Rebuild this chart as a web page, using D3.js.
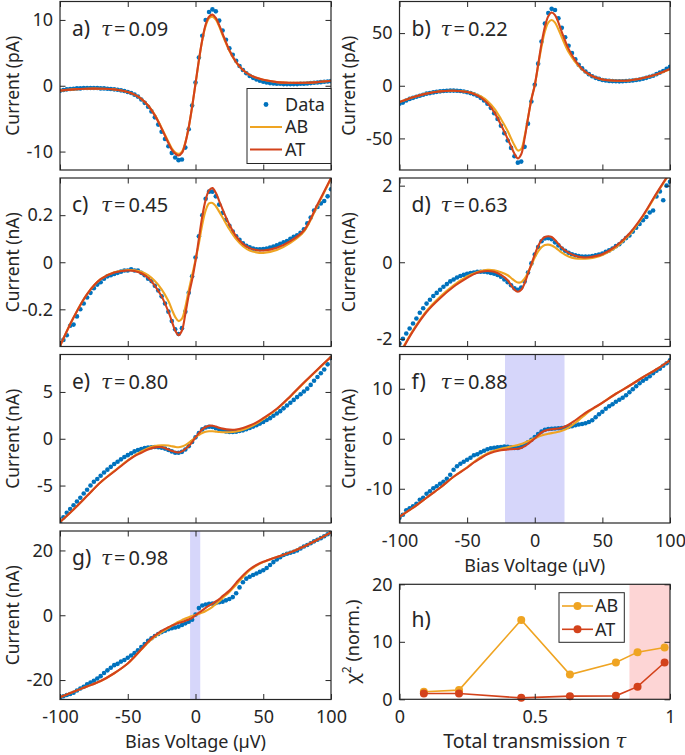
<!DOCTYPE html>
<html>
<head>
<meta charset="utf-8">
<script src="https://cdn.jsdelivr.net/npm/d3@7"></script>
<style>
body { margin: 0; background: #fff; }
text { font-family: "Noto Sans", "Open Sans", sans-serif; fill: #262626; }
</style>
</head>
<body>
<svg id="chart" width="685" height="755"></svg>
<script>
//Bias voltages (uV) of the fit curves and of the measured points
var biasFit = [-100, -90, -80, -70, -60, -50, -45, -40, -35, -30, -25, -20, -17.5, -15, -12.5, -10, -7.5, -5, -2.5,
    0, 2.5, 5, 7.5, 10, 12.5, 15, 17.5, 20, 25, 30, 35, 40, 45, 50, 60, 70, 80, 90, 100];
var biasData = [-100, -97.5, -95, -92.5, -90, -87.5, -85, -82.5, -80, -77.5, -75, -72.5, -70, -67.5, -65, -62.5,
    -60, -57.5, -55, -52.5, -50, -47.5, -45, -42.5, -40, -37.5, -35, -32.5, -30, -27.5, -25, -22.5, -20, -17.5,
    -15, -12.5, -10, -7.5, -5, -2.5, 0, 2.5, 5, 7.5, 10, 12.5, 15, 17.5, 20, 22.5, 25, 27.5, 30, 32.5, 35, 37.5,
    40, 42.5, 45, 47.5, 50, 52.5, 55, 57.5, 60, 62.5, 65, 67.5, 70, 72.5, 75, 77.5, 80, 82.5, 85, 87.5, 90, 92.5,
    95, 97.5, 100];

//a) tau = 0.09 (pA)
var dataA = [-0.75, -0.65, -0.55, -0.5, -0.45, -0.4, -0.4, -0.35, -0.35, -0.35,
    -0.35, -0.35, -0.4, -0.4, -0.45, -0.5, -0.55, -0.6, -0.7, -0.8,
    -0.95, -1.1, -1.35, -1.65, -2.1, -2.6, -3.2, -3.9, -4.8, -5.9,
    -7.0, -8.1, -9.2, -10.2, -10.9, -11.3, -11.2, -9.4, -6.6, -3.0,
    0.5, 4.3, 7.6, 10.0, 11.2, 11.6, 11.3, 9.9, 8.4, 7.0,
    5.7, 4.7, 3.8, 3.0, 2.4, 1.9, 1.5, 1.2, 0.95, 0.75,
    0.6, 0.5, 0.4, 0.35, 0.3, 0.3, 0.25, 0.25, 0.25, 0.25,
    0.25, 0.3, 0.3, 0.35, 0.4, 0.45, 0.5, 0.55, 0.6, 0.65, 0.7];
var abA = [-0.75, -0.55, -0.45, -0.45, -0.55, -0.95, -1.35, -2.0, -3.0, -4.4, -6.4, -8.5,
    -9.5, -10.1, -10.35, -10.0, -8.6, -6.3, -3.2, 0.3, 3.8, 6.9, 9.1, 10.25, 10.5, 10.05, 9.0, 7.7,
    5.3, 3.55, 2.4, 1.65, 1.2, 0.9, 0.55, 0.45, 0.45, 0.55, 0.75];
var atA = [-0.75, -0.55, -0.45, -0.45, -0.55, -0.95, -1.35, -2.0, -3.0, -4.5, -6.5, -8.7,
    -9.7, -10.3, -10.6, -10.2, -8.7, -6.3, -3.2, 0.3, 3.9, 7.0, 9.3, 10.5, 10.8, 10.3, 9.2, 7.9,
    5.4, 3.6, 2.4, 1.65, 1.2, 0.9, 0.55, 0.45, 0.45, 0.55, 0.75];

//b) tau = 0.22 (pA)
var dataB = [-17, -16, -14, -12.5, -11.5, -10.5, -9.5, -8.5, -7.5, -7,
    -6.3, -5.8, -5.3, -5, -4.8, -4.6, -4.6, -4.8, -5, -5.5,
    -6.2, -7, -8, -9.5, -11.5, -14, -17, -21, -26, -31.5,
    -38, -45, -52, -59, -67, -73, -72, -58, -36, -15,
    1, 21, 42, 59, 69, 73, 72, 64, 55, 46,
    38, 31, 25, 20, 16.5, 13.5, 11, 9, 7.5, 6.5,
    5.5, 5, 4.6, 4.4, 4.3, 4.2, 4.3, 4.5, 4.7, 5,
    5.4, 6, 6.7, 7.5, 8.5, 9.5, 11, 12.5, 14, 16, 18];
var abB = [-15.5, -11.0, -7.3, -5.2, -4.8, -5.8, -7.3, -10.0, -14.5, -21.5, -31.5, -43.0,
    -50.0, -56.5, -61.5, -60.0, -48.0, -30.5, -13.0, 0.5, 19, 37, 51.5, 60, 62.5, 60, 53.5, 46,
    32, 22.5, 15.5, 10.8, 7.8, 6.0, 4.8, 5.0, 7.3, 10.8, 15.5];
var atB = [-15.5, -11.0, -7.5, -5.3, -4.8, -6.0, -7.8, -11.0, -16.5, -25.0, -37.0, -50.5,
    -57.5, -64.5, -69.0, -65.0, -50.0, -31.0, -13.0, 0.5, 20, 40, 56, 66, 69.5, 67, 60, 51,
    35, 24, 16, 11, 7.8, 6.0, 4.8, 5.0, 7.3, 10.8, 16];

//c) tau = 0.45 (nA)
var dataC = [-0.36, -0.33, -0.31, -0.27, -0.265, -0.23, -0.2, -0.175, -0.15, -0.13,
    -0.11, -0.095, -0.085, -0.07, -0.06, -0.055, -0.05, -0.045, -0.04, -0.035,
    -0.035, -0.03, -0.035, -0.035, -0.045, -0.055, -0.07, -0.08, -0.1, -0.12,
    -0.145, -0.175, -0.21, -0.25, -0.285, -0.305, -0.28, -0.21, -0.13, -0.06,
    0.02, 0.11, 0.2, 0.27, 0.3, 0.3, 0.28, 0.245, 0.21, 0.18,
    0.155, 0.13, 0.11, 0.095, 0.08, 0.07, 0.063, 0.058, 0.055, 0.055,
    0.056, 0.058, 0.062, 0.067, 0.072, 0.078, 0.085, 0.09, 0.1, 0.108,
    0.115, 0.125, 0.14, 0.165, 0.19, 0.22, 0.235, 0.25, 0.26, 0.28, 0.31];
var abC = [-0.356, -0.235, -0.135, -0.072, -0.043, -0.033, -0.034, -0.04, -0.055, -0.08, -0.115, -0.165,
    -0.2, -0.232, -0.25, -0.24, -0.19, -0.12, -0.055, 0.01, 0.08, 0.16, 0.22, 0.25, 0.252, 0.238, 0.215, 0.19,
    0.14, 0.098, 0.068, 0.05, 0.042, 0.04, 0.052, 0.082, 0.13, 0.24, 0.355];
var atC = [-0.356, -0.235, -0.135, -0.072, -0.044, -0.035, -0.037, -0.047, -0.066, -0.1, -0.145, -0.21,
    -0.25, -0.29, -0.31, -0.29, -0.22, -0.14, -0.075, 0.005, 0.1, 0.195, 0.265, 0.305, 0.315, 0.295, 0.26, 0.225,
    0.16, 0.11, 0.078, 0.06, 0.052, 0.05, 0.062, 0.09, 0.135, 0.245, 0.358];

//d) tau = 0.63 (nA)
var dataD = [-2.12, -2.0, -1.86, -1.73, -1.6, -1.47, -1.32, -1.2, -1.08, -0.98,
    -0.88, -0.8, -0.72, -0.64, -0.57, -0.5, -0.45, -0.4, -0.36, -0.33,
    -0.3, -0.28, -0.27, -0.25, -0.25, -0.25, -0.26, -0.28, -0.3, -0.33,
    -0.38, -0.45, -0.52, -0.6, -0.68, -0.72, -0.66, -0.5, -0.27, -0.03,
    0.2, 0.4, 0.55, 0.62, 0.63, 0.6, 0.52, 0.44, 0.36, 0.3,
    0.25, 0.21, 0.18, 0.16, 0.15, 0.15, 0.15, 0.16, 0.18, 0.2,
    0.23, 0.27, 0.31, 0.36, 0.42, 0.47, 0.55, 0.63, 0.7, 0.8,
    0.9, 1.0, 1.1, 1.18, 1.3, 1.35, 1.72, 1.85, 1.62, 2.0, 2.1];
var abD = [-2.4, -1.78, -1.27, -0.9, -0.6, -0.37, -0.29, -0.23, -0.2, -0.21, -0.26, -0.34,
    -0.41, -0.48, -0.53, -0.52, -0.43, -0.27, -0.08, 0.12, 0.28, 0.39, 0.45, 0.46, 0.44, 0.39, 0.32, 0.25,
    0.15, 0.1, 0.09, 0.1, 0.13, 0.19, 0.39, 0.72, 1.2, 1.78, 2.33];
var atD = [-2.42, -1.8, -1.3, -0.94, -0.64, -0.41, -0.31, -0.25, -0.23, -0.25, -0.33, -0.47,
    -0.6, -0.72, -0.77, -0.72, -0.55, -0.3, -0.05, 0.2, 0.42, 0.58, 0.66, 0.68, 0.66, 0.58, 0.48, 0.38,
    0.25, 0.17, 0.13, 0.13, 0.16, 0.21, 0.42, 0.75, 1.22, 1.8, 2.35];

//e) tau = 0.80 (nA)
var dataE = [-8.9, -8.4, -7.9, -7.5, -7.1, -6.7, -6.3, -5.85, -5.45, -5.0,
    -4.6, -4.3, -3.95, -3.6, -3.3, -3.0, -2.7, -2.45, -2.2, -1.95,
    -1.75, -1.55, -1.35, -1.2, -1.1, -1.0, -0.95, -0.9, -0.88, -0.9,
    -0.95, -1.05, -1.2, -1.35, -1.5, -1.5, -1.4, -1.15, -0.8, -0.35,
    0.15, 0.6, 1.0, 1.2, 1.28, 1.25, 1.12, 0.98, 0.85, 0.78,
    0.72, 0.72, 0.75, 0.82, 0.9, 1.02, 1.15, 1.3, 1.45, 1.62,
    1.8, 2.0, 2.2, 2.45, 2.7, 2.95, 3.25, 3.55, 3.85, 4.15,
    4.45, 4.75, 5.05, 5.35, 5.75, 6.2, 6.6, 7.0, 7.4, 7.95, 8.6];
var abE = [-8.9, -7.55, -6.1, -4.65, -3.45, -2.3, -1.8, -1.35, -1.0, -0.78, -0.7, -0.72,
    -0.8, -0.87, -0.9, -0.83, -0.68, -0.45, -0.15, 0.15, 0.42, 0.62, 0.75, 0.8, 0.8, 0.76, 0.72, 0.7,
    0.7, 0.78, 0.95, 1.25, 1.62, 2.1, 3.15, 4.5, 5.95, 7.35, 8.75];
var atE = [-8.9, -7.55, -6.1, -4.65, -3.5, -2.35, -1.85, -1.5, -1.15, -0.92, -0.9, -1.15,
    -1.3, -1.42, -1.46, -1.35, -1.1, -0.78, -0.35, 0.15, 0.6, 1.0, 1.25, 1.38, 1.39, 1.3, 1.17, 1.08,
    0.97, 0.98, 1.15, 1.42, 1.75, 2.2, 3.2, 4.55, 6.0, 7.4, 8.75];

//f) tau = 0.88 (nA)
var dataF = [-15.8, -15.2, -14.3, -13.9, -13.5, -13.0, -12.2, -11.8, -11.0, -10.5,
    -9.9, -9.5, -9.0, -8.6, -8.0, -7.2, -6.2, -5.5, -5.0, -4.6,
    -4.2, -3.8, -3.3, -3.1, -2.7, -2.4, -2.1, -1.9, -1.8, -1.7,
    -1.65, -1.55, -1.6, -1.7, -1.85, -1.85, -1.6, -1.15, -0.7, -0.2,
    0.35, 0.95, 1.45, 1.8, 1.95, 2.0, 2.05, 2.1, 2.15, 2.25,
    2.35, 2.5, 2.7, 2.85, 2.95, 3.1, 3.35, 3.7, 4.3, 4.9,
    5.4, 6.0, 6.5, 6.9, 7.4, 7.8, 8.2, 8.7, 9.3, 9.9,
    10.5, 11.1, 11.6, 12.0, 12.5, 13.1, 13.6, 14.0, 14.6, 15.1, 15.7];
var abF = [-15.6, -13.8, -11.8, -9.8, -7.6, -5.7, -4.65, -3.7, -2.95, -2.4, -2.0, -1.7,
    -1.55, -1.4, -1.25, -1.05, -0.8, -0.5, -0.2, 0.1, 0.4, 0.65, 0.85, 1.0, 1.12, 1.25, 1.4, 1.6,
    2.2, 3.2, 4.3, 5.4, 6.3, 7.2, 9.0, 10.6, 12.3, 13.9, 15.7];
var atF = [-15.6, -13.8, -11.8, -9.8, -7.6, -5.8, -4.75, -3.9, -3.1, -2.6, -2.3, -2.15,
    -2.1, -2.05, -2.0, -1.85, -1.5, -1.05, -0.5, 0.05, 0.7, 1.25, 1.6, 1.8, 1.9, 1.98, 2.05, 2.2,
    2.8, 3.7, 4.7, 5.6, 6.4, 7.2, 9.0, 10.6, 12.3, 13.9, 15.7];

//g) tau = 0.98 (nA)
var dataG = [-25.6, -25.0, -24.6, -24.3, -23.9, -23.2, -22.6, -22.1, -21.3, -20.8,
    -20.2, -19.5, -18.8, -17.8, -17.0, -16.2, -15.4, -15.0, -14.3, -13.8,
    -13.1, -12.4, -11.7, -10.8, -9.8, -8.9, -7.9, -7.1, -6.4, -5.8,
    -5.2, -4.8, -4.3, -4.0, -3.8, -3.5, -3.0, -2.5, -2.0, -1.4,
    0.2, 2.2, 3.0, 3.3, 3.5, 3.6, 3.8, 4.0, 4.2, 4.6,
    5.0, 5.6, 6.8, 8.6, 10.2, 11.3, 11.9, 12.4, 12.9, 13.4,
    13.9, 14.6, 15.5, 16.4, 17.2, 17.9, 18.6, 19.0, 19.3, 19.6,
    20.0, 20.6, 21.2, 21.7, 22.2, 22.8, 23.3, 23.8, 24.4, 25.0, 25.7];
var abG = [-25.3, -23.6, -22.0, -20.3, -17.9, -14.9, -12.8, -10.6, -8.4, -6.6, -5.2, -3.9,
    -3.2, -2.6, -2.0, -1.5, -1.0, -0.6, -0.25, 0.05, 0.4, 0.8, 1.3, 1.9, 2.6, 3.4, 4.3, 5.3,
    7.2, 9.4, 11.8, 13.9, 15.3, 16.4, 18.0, 19.4, 21.2, 23.3, 25.6];
var atG = [-25.3, -23.6, -22.0, -20.3, -17.9, -14.9, -12.8, -10.5, -8.2, -6.3, -4.8, -3.7,
    -3.2, -2.8, -2.4, -2.1, -1.7, -1.3, -0.8, 0.0, 0.8, 1.5, 2.3, 3.0, 3.6, 4.3, 5.0, 5.9,
    7.6, 10.0, 12.3, 14.2, 15.5, 16.5, 18.0, 19.4, 21.2, 23.3, 25.6];

//h) normalised chi^2 against total transmission
var tauVals = [0.09, 0.22, 0.45, 0.63, 0.80, 0.88, 0.98];
var chiAB = [1.3, 1.6, 13.8, 4.3, 6.4, 8.2, 9.0];
var chiAT = [1.0, 1.0, 0.25, 0.55, 0.6, 2.2, 6.4];

var biasTicks = [-100, -50, 0, 50, 100];

//Layout
var ink = "#262626", blue = "#0072BD", colAB = "#EFA422", colAT = "#D3421B";
var colX = [[60, 331], [399.5, 670]];
var rowTop = [1.5, 178, 354.5, 531], panelH = 168.5;

var panels = [
    {key: "a", tau: "0.09", col: 0, row: 0, yDom: [-12.8, 12.8], yTicks: [-10, 0, 10], unit: "pA", dots: dataA, ab: abA, at: atA},
    {key: "b", tau: "0.22", col: 1, row: 0, yDom: [-80, 80], yTicks: [-50, 0, 50], unit: "pA", dots: dataB, ab: abB, at: atB},
    {key: "c", tau: "0.45", col: 0, row: 1, yDom: [-0.358, 0.358], yTicks: [-0.2, 0, 0.2], unit: "nA", dots: dataC, ab: abC, at: atC},
    {key: "d", tau: "0.63", col: 1, row: 1, yDom: [-2.2, 2.2], yTicks: [-2, 0, 2], unit: "nA", dots: dataD, ab: abD, at: atD},
    {key: "e", tau: "0.80", col: 0, row: 2, yDom: [-9, 9], yTicks: [-5, 0, 5], unit: "nA", dots: dataE, ab: abE, at: atE},
    {key: "f", tau: "0.88", col: 1, row: 2, yDom: [-16.85, 16.85], yTicks: [-10, 0, 10], unit: "nA", dots: dataF, ab: abF, at: atF, band: [-22, 22], xLabels: true},
    {key: "g", tau: "0.98", col: 0, row: 3, yDom: [-26, 26], yTicks: [-20, 0, 20], unit: "nA", dots: dataG, ab: abG, at: atG, band: [-4, 3.5], xLabels: true}
];

var svg = d3.select("#chart");
var defs = svg.append("defs");

//Inward ticks on all four sides plus the box, MATLAB style
function drawFrame(g, x, y, xTicks, yTicks, xFmt) {
    var bot = y.range()[0], top = y.range()[1], lft = x.range()[0], rgt = x.range()[1];
    var none = function () { return ""; };
    var axes = [
        g.append("g").attr("transform", "translate(0," + bot + ")")
            .call(d3.axisBottom(x).tickValues(xTicks).tickSize(-5.5).tickPadding(11).tickFormat(xFmt || none)),
        g.append("g").attr("transform", "translate(0," + top + ")")
            .call(d3.axisTop(x).tickValues(xTicks).tickSize(-5.5).tickFormat(none)),
        g.append("g").attr("transform", "translate(" + lft + ",0)")
            .call(d3.axisLeft(y).tickValues(yTicks).tickSize(-5.5).tickPadding(7).tickFormat(String)),
        g.append("g").attr("transform", "translate(" + rgt + ",0)")
            .call(d3.axisRight(y).tickValues(yTicks).tickSize(-5.5).tickFormat(none))
    ];
    axes.forEach(function (a) {
        a.attr("color", ink).attr("font-size", 18);
        a.select(".domain").remove();
        a.selectAll(".tick line").attr("stroke-width", 1);
    });
    g.append("rect")
        .attr("x", lft).attr("y", top)
        .attr("width", rgt - lft).attr("height", bot - top)
        .attr("fill", "none").attr("stroke", ink).attr("stroke-width", 1.2);
}

function panelLabel(g, x0, y0, letter, tau) {
    g.append("text").attr("x", x0 + 12).attr("y", y0).attr("font-size", 21).text(letter + ")");
    if (tau) {
        g.append("text").attr("x", x0 + 41).attr("y", y0).attr("font-size", 20)
            .style("font-family", "'DejaVu Serif', serif").style("font-style", "italic").text("\u03C4");
        g.append("text").attr("x", x0 + 54).attr("y", y0).attr("font-size", 20).text("=");
        g.append("text").attr("x", x0 + 68.5).attr("y", y0).attr("font-size", 20).text(tau);
    }
}

panels.forEach(function (p) {
    var x0 = colX[p.col][0], x1 = colX[p.col][1];
    var y0 = rowTop[p.row], y1 = y0 + panelH;
    var x = d3.scaleLinear().domain([-100, 100]).range([x0, x1]);
    var y = d3.scaleLinear().domain(p.yDom).range([y1, y0]);
    var g = svg.append("g");

    defs.append("clipPath").attr("id", "clip-" + p.key)
        .append("rect").attr("x", x0).attr("y", y0).attr("width", x1 - x0).attr("height", y1 - y0);
    var plot = g.append("g").attr("clip-path", "url(#clip-" + p.key + ")");

    if (p.band) {
        plot.append("rect")
            .attr("x", x(p.band[0])).attr("y", y0)
            .attr("width", x(p.band[1]) - x(p.band[0])).attr("height", y1 - y0)
            .attr("fill", "#d6d6fa");
    }

    //Measured points
    plot.selectAll(".dot")
        .data(biasData.map(function (v, i) { return [v, p.dots[i]]; }))
        .enter().append("circle")
        .attr("cx", function (d) { return x(d[0]); })
        .attr("cy", function (d) { return y(d[1]); })
        .attr("r", 2.3)
        .attr("fill", blue);

    //Fits: AB first, AT on top
    var line = d3.line()
        .x(function (d) { return x(d[0]); })
        .y(function (d) { return y(d[1]); })
        .curve(d3.curveCatmullRom.alpha(0.5));
    [[p.ab, colAB], [p.at, colAT]].forEach(function (s) {
        plot.append("path")
            .datum(biasFit.map(function (v, i) { return [v, s[0][i]]; }))
            .attr("d", line)
            .attr("fill", "none")
            .attr("stroke", s[1])
            .attr("stroke-width", 2.1);
    });

    drawFrame(g, x, y, biasTicks, p.yTicks, p.xLabels ? String : null);

    //Y label
    var lx = p.col === 0 ? 18.5 : 355, ly = (y0 + y1) / 2;
    g.append("text")
        .attr("transform", "translate(" + lx + "," + ly + ") rotate(-90)")
        .attr("text-anchor", "middle").attr("font-size", 17.5)
        .text("Current (" + p.unit + ")");

    if (p.xLabels) {
        g.append("text")
            .attr("x", (x0 + x1) / 2).attr("y", y1 + 48.5)
            .attr("text-anchor", "middle").attr("font-size", 18)
            .text("Bias Voltage (\u00B5V)");
    }

    panelLabel(g, x0, y0 + 34, p.key, p.tau);
});

//Legend of panel a
(function () {
    var lg = svg.append("g");
    lg.append("rect").attr("x", 247).attr("y", 88.5).attr("width", 84).attr("height", 75)
        .attr("fill", "#fff").attr("stroke", ink).attr("stroke-width", 1);
    var rows = [["Data", null], ["AB", colAB], ["AT", colAT]];
    rows.forEach(function (r, i) {
        var yy = 104.5 + i * 22.5;
        if (r[1]) {
            lg.append("line").attr("x1", 250).attr("x2", 282).attr("y1", yy).attr("y2", yy)
                .attr("stroke", r[1]).attr("stroke-width", 2);
        } else {
            lg.append("circle").attr("cx", 266).attr("cy", yy).attr("r", 2.4).attr("fill", blue);
        }
        lg.append("text").attr("x", 285).attr("y", yy).attr("dy", "0.35em")
            .attr("font-size", 18).text(r[0]);
    });
})();

//Panel h
(function () {
    var x0 = 399.5, x1 = 670, y0 = 584.3, y1 = 699.3;
    var x = d3.scaleLinear().domain([0, 1]).range([x0, x1]);
    var y = d3.scaleLinear().domain([0, 20]).range([y1, y0]);
    var g = svg.append("g");

    g.append("rect")
        .attr("x", x(0.85)).attr("y", y0)
        .attr("width", x(1) - x(0.85)).attr("height", y1 - y0)
        .attr("fill", "#fdd5d5");

    var line = d3.line()
        .x(function (d) { return x(d[0]); })
        .y(function (d) { return y(d[1]); });
    [[chiAB, colAB], [chiAT, colAT]].forEach(function (s) {
        var pts = tauVals.map(function (t, i) { return [t, s[0][i]]; });
        g.append("path").datum(pts).attr("d", line)
            .attr("fill", "none").attr("stroke", s[1]).attr("stroke-width", 1.6);
        g.selectAll(null).data(pts).enter().append("circle")
            .attr("cx", function (d) { return x(d[0]); })
            .attr("cy", function (d) { return y(d[1]); })
            .attr("r", 4).attr("fill", s[1]);
    });

    drawFrame(g, x, y, [0, 0.5, 1], [0, 10, 20], String);

    //Legend
    g.append("rect").attr("x", 559).attr("y", 592.7).attr("width", 65.3).attr("height", 49.6)
        .attr("fill", "#fff").attr("stroke", ink).attr("stroke-width", 1);
    [["AB", colAB], ["AT", colAT]].forEach(function (r, i) {
        var yy = 606 + i * 23.3;
        g.append("line").attr("x1", 562).attr("x2", 593).attr("y1", yy).attr("y2", yy)
            .attr("stroke", r[1]).attr("stroke-width", 1.6);
        g.append("circle").attr("cx", 577.5).attr("cy", yy).attr("r", 4).attr("fill", r[1]);
        g.append("text").attr("x", 595).attr("y", yy).attr("dy", "0.35em")
            .attr("font-size", 18).text(r[0]);
    });

    //Axis labels
    var yl = g.append("text")
        .attr("transform", "translate(359," + ((y0 + y1) / 2) + ") rotate(-90)")
        .attr("text-anchor", "middle").attr("font-size", 18);
    yl.append("tspan").text("\u03C7");
    yl.append("tspan").attr("font-size", 12).attr("dy", -8).text("2");
    yl.append("tspan").attr("dy", 8).text(" (norm.)");

    var xl = g.append("text")
        .attr("x", (x0 + x1) / 2).attr("y", 748)
        .attr("text-anchor", "middle").attr("font-size", 19.5);
    xl.append("tspan").text("Total transmission ");
    xl.append("tspan").style("font-family", "'DejaVu Serif', serif").style("font-style", "italic").text("\u03C4");

    panelLabel(g, x0, 627, "h", null);
})();
</script>
</body>
</html>
